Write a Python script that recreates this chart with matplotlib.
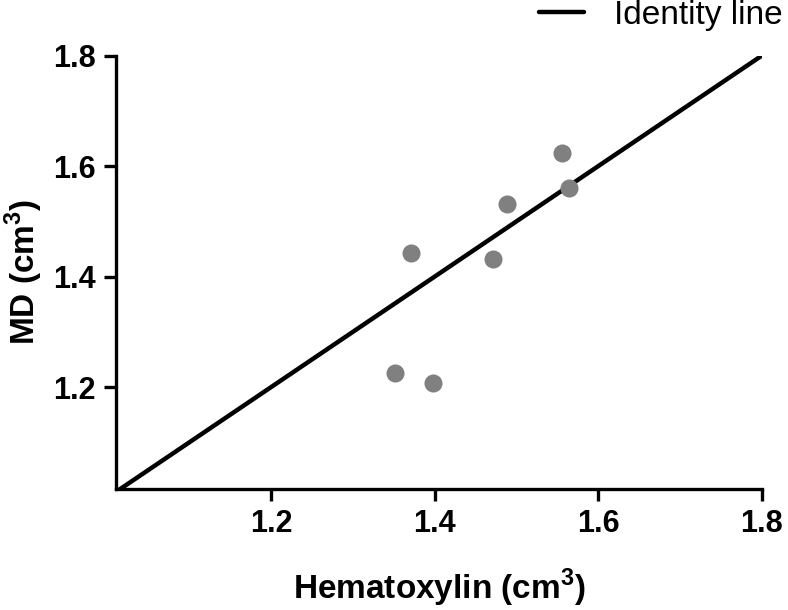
import matplotlib
matplotlib.use("Agg")
import matplotlib.pyplot as plt

hematoxylin = [1.555, 1.564, 1.488, 1.371, 1.471, 1.351, 1.398]
md = [1.624, 1.560, 1.531, 1.442, 1.431, 1.225, 1.207]
identity = [1.01, 1.80]
xticks = [1.2, 1.4, 1.6, 1.8]
yticks = [1.2, 1.4, 1.6, 1.8]

plt.rcParams['font.family'] = ['Liberation Sans', 'DejaVu Sans']
plt.rcParams['mathtext.fontset'] = 'custom'
plt.rcParams['mathtext.rm'] = 'Liberation Sans'
plt.rcParams['mathtext.bf'] = 'Liberation Sans:bold'

fig = plt.figure(figsize=(7.88, 6.10), dpi=100)
ax = fig.add_axes([0.147, 0.198, 0.820, 0.711])

line, = ax.plot(identity, identity, color='black', lw=3.2, solid_capstyle='round',
                label='Identity line', zorder=2)
ax.plot(hematoxylin, md, 'o', color='#808080', ms=13, mec='none', zorder=3)

ax.set_xlim(1.01, 1.8)
ax.set_ylim(1.015, 1.8)
ax.set_xticks(xticks)
ax.set_yticks(yticks)
ax.set_xticklabels([f"{t:.1f}" for t in xticks], fontsize=22, fontweight='bold')
ax.set_yticklabels([f"{t:.1f}" for t in yticks], fontsize=22, fontweight='bold')

for s in ['top', 'right']:
    ax.spines[s].set_visible(False)
for s in ['left', 'bottom']:
    ax.spines[s].set_linewidth(2.4)
ax.tick_params(axis='both', direction='out', length=8.5, width=2.4, pad=6)

ax.set_xlabel('Hematoxylin (cm$^\\mathbf{3}$)', fontsize=24, fontweight='bold')
ax.set_ylabel('MD (cm$^\\mathbf{3}$)', fontsize=24, fontweight='bold')
ax.xaxis.set_label_coords(0.5, -0.18)
ax.yaxis.set_label_coords(-0.110, 0.5)

fig.legend(handles=[line], labels=['Identity line'], loc='center right',
           bbox_to_anchor=(0.993, 0.975), frameon=False, fontsize=24,
           handlelength=1.36, handletextpad=0.9, borderpad=0, borderaxespad=0)

fig.savefig('out.png', dpi=100)
